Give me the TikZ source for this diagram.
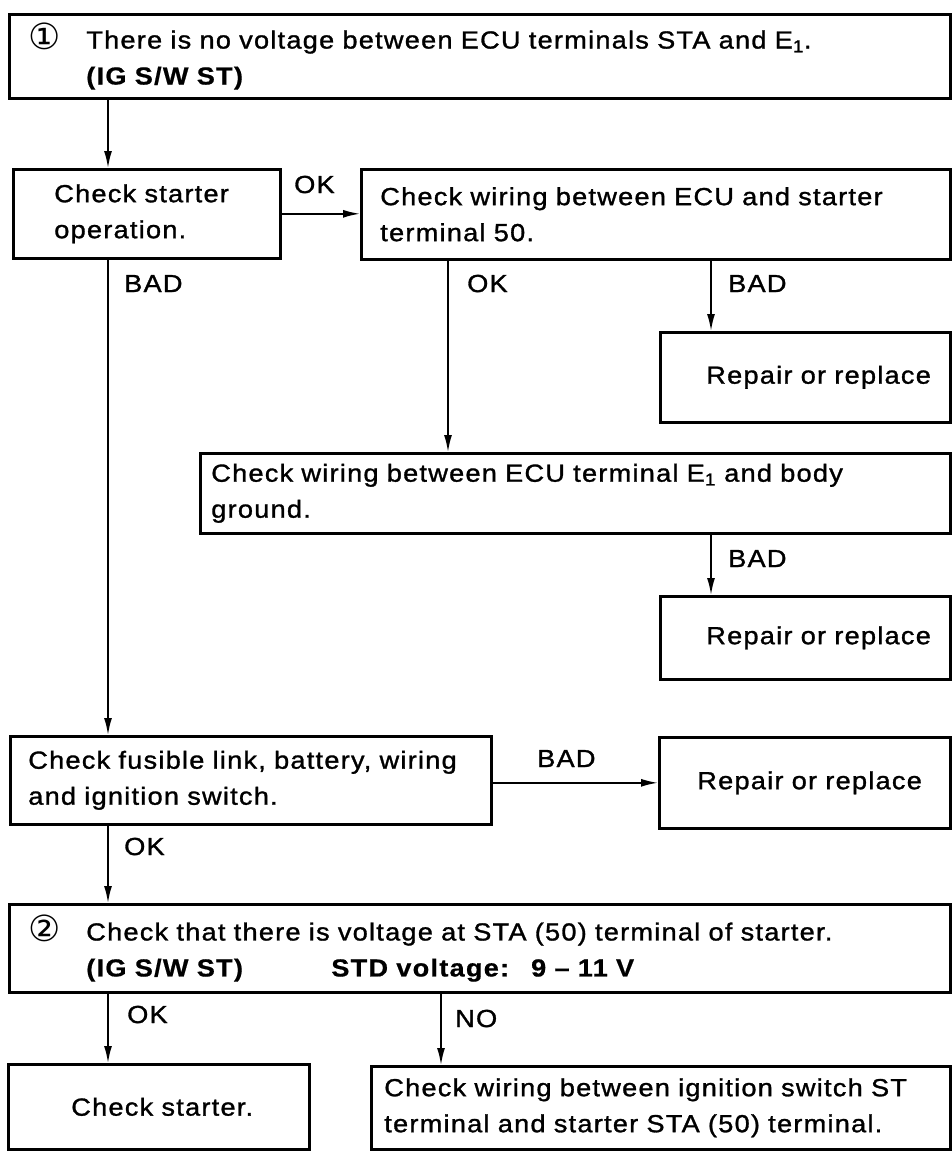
\documentclass[tikz,border=0pt]{standalone}
\usepackage{fontspec}
\setmainfont{Liberation Sans}[LetterSpace=5, FakeStretch=1.1,
  UprightFeatures={FakeBold=1.2}, BoldFeatures={FakeBold=0.6}]
\newfontfamily\circfont{DejaVu Sans}
\usetikzlibrary{arrows.meta}
\newcommand\circnum[1]{\makebox[58pt][l]{\raisebox{-1pt}{\circfont\fontsize{36}{36}\selectfont #1}}}
\begin{document}
\begin{tikzpicture}[x=1pt,y=-1pt,
  every node/.style={font=\fontsize{24.7}{36}\selectfont},
  box/.style={draw, line width=2.6pt, anchor=north west, inner ysep=0pt, align=left},
  lab/.style={anchor=base west, inner sep=0pt},
  arr/.style={line width=1.8pt, -{Latex[length=17pt,width=8pt]}}]
\useasboundingbox (0,0) rectangle (951,1151);

% columns used by the vertical connectors
\coordinate (x108) at (108,0);
\coordinate (x448) at (448,0);
\coordinate (x711) at (711,0);
\coordinate (x441) at (441,0);

% boxes
\node[box, minimum height=84pt, text width=903pt, inner xsep=19pt] (b1) at (8,13)
  {\mbox{\circnum{①}There is no voltage between ECU terminals STA and E\textsubscript{1}.}\\
   \hspace*{58pt}\textbf{(IG S/W ST)}};

\node[box, minimum height=89pt, text width=185pt, inner xsep=41pt] (b2) at (12,168)
  {\mbox{Check starter}\\operation.};

\node[box, minimum height=90pt, text width=551pt, inner xsep=19pt] (b3) at (360,168)
  {\mbox{Check wiring between ECU and starter}\\terminal 50.};

\node[box, minimum height=90pt, text width=264pt, inner xsep=13pt] (b4) at (659,331)
  {\hspace*{33pt}\mbox{Repair or replace}};

\node[box, minimum height=80pt, text width=728pt, inner xsep=11pt] (b5) at (199,452)
  {\mbox{Check wiring between ECU terminal E\textsubscript{1} and body}\\ground.};

\node[box, minimum height=83pt, text width=264pt, inner xsep=13pt] (b6) at (659,595)
  {\hspace*{33pt}\mbox{Repair or replace}};

\node[box, minimum height=88pt, text width=445pt, inner xsep=18pt] (b7) at (9,735)
  {\mbox{Check fusible link, battery, wiring}\\\mbox{and ignition switch.}};

\node[box, minimum height=91pt, text width=265pt, inner xsep=13pt] (b8) at (658,736)
  {\hspace*{25pt}\mbox{Repair or replace}};

\node[box, minimum height=88pt, text width=903pt, inner xsep=19pt] (b9) at (8,903)
  {\mbox{\circnum{②}Check that there is voltage at STA (50) terminal of starter.}\\
   \hspace*{58pt}\textbf{\makebox[245pt][l]{(IG S/W ST)}STD voltage:\hspace{22pt}9 -- 11 V}};

\node[box, minimum height=85pt, text width=275pt, inner xsep=13pt] (b10) at (7,1063)
  {\hspace*{50pt}\raisebox{-6pt}{Check starter.}};

\node[box, minimum height=83pt, text width=553pt, inner xsep=13pt] (b11) at (370,1065)
  {\mbox{Check wiring between ignition switch ST}\\\mbox{terminal and starter STA (50) terminal.}};

% connectors
\draw[arr] (x108 |- b1.south) -- (x108 |- b2.north);
\draw[arr] (b2.east) -- (b2.east -| b3.west);
\draw[arr] (x108 |- b2.south) -- (x108 |- b7.north);
\draw[arr] (x448 |- b3.south) -- (x448 |- b5.north);
\draw[arr] (x711 |- b3.south) -- (x711 |- b4.north);
\draw[arr] (x711 |- b5.south) -- (x711 |- b6.north);
\draw[arr] (b8.west -| b7.east) -- (b8.west);
\draw[arr] (x108 |- b7.south) -- (x108 |- b9.north);
\draw[arr] (x108 |- b9.south) -- (x108 |- b10.north);
\draw[arr] (x441 |- b9.south) -- (x441 |- b11.north);

% branch labels
\node[lab] (okA)  at (294,193)  {OK};
\node[lab] (badA) at (124,292)  {BAD};
\node[lab] (okB)  at (467,292)  {OK};
\node[lab] (badB) at (728,292)  {BAD};
\node[lab] (badC) at (728,567)  {BAD};
\node[lab] (badD) at (537,767)  {BAD};
\node[lab] (okC)  at (124,855)  {OK};
\node[lab] (okD)  at (127,1023) {OK};
\node[lab] (noA)  at (455,1027) {NO};
\end{tikzpicture}
\end{document}
